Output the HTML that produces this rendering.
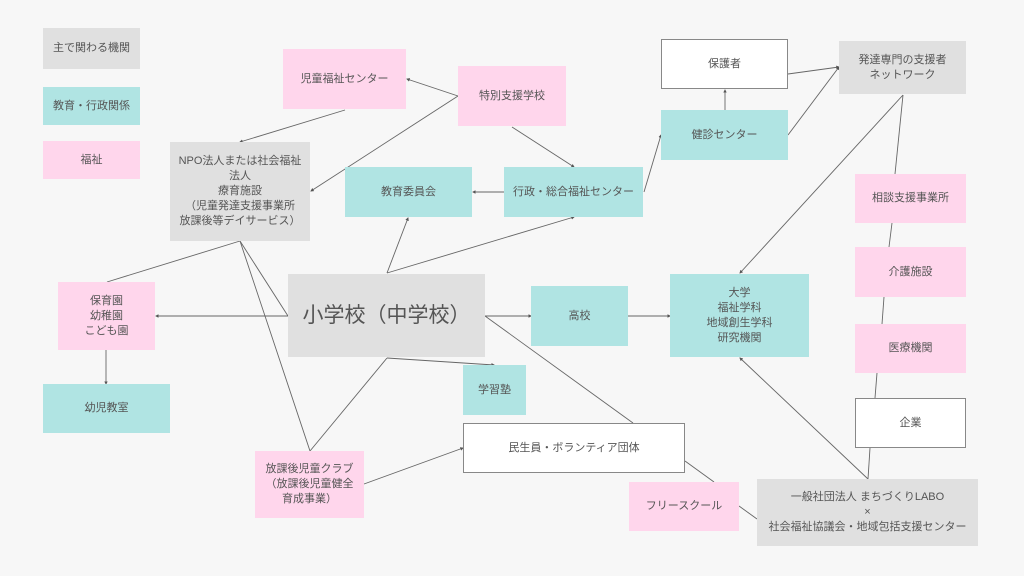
<!DOCTYPE html>
<html><head><meta charset="utf-8"><style>
body{margin:0;width:1024px;height:576px;background:#f7f7f7;position:relative;overflow:hidden;font-family:"Liberation Sans","Noto Sans CJK JP",sans-serif;color:#555;}
.b{position:absolute;display:flex;align-items:center;justify-content:center;text-align:center;font-size:11px;line-height:15px;box-sizing:border-box;}
.p{background:#ffd6ec}.t{background:#b0e4e3}.g{background:#e0e0e0}.w{background:#fff;border:1px solid #888}
svg{position:absolute;left:0;top:0}
</style></head><body>
<svg width="1024" height="576">
<defs><marker id="a" markerWidth="4" markerHeight="4" refX="3" refY="2" orient="auto"><path d="M0,0L4,2L0,4z" fill="#555"/></marker></defs>
<g stroke="#666" stroke-width="0.9" fill="none">
<line x1="458" y1="96" x2="407" y2="79" marker-end="url(#a)"/>
<line x1="345" y1="110" x2="240" y2="142" marker-end="url(#a)"/>
<line x1="458" y1="96" x2="311" y2="191" marker-end="url(#a)"/>
<line x1="512" y1="127" x2="574" y2="167" marker-end="url(#a)"/>
<line x1="504" y1="192" x2="473" y2="192" marker-end="url(#a)"/>
<line x1="387" y1="273" x2="408" y2="218" marker-end="url(#a)"/>
<line x1="387" y1="273" x2="574" y2="217" marker-end="url(#a)"/>
<line x1="644" y1="192" x2="661" y2="135" marker-end="url(#a)"/>
<line x1="725" y1="110" x2="725" y2="90" marker-end="url(#a)"/>
<line x1="788" y1="74" x2="839" y2="67" marker-end="url(#a)"/>
<line x1="788" y1="135" x2="839" y2="67" marker-end="url(#a)"/>
<line x1="903" y1="95" x2="740" y2="273" marker-end="url(#a)"/>
<line x1="903" y1="95" x2="895" y2="174"/>
<line x1="892" y1="223" x2="889" y2="247"/>
<line x1="884" y1="297" x2="882" y2="324"/>
<line x1="877" y1="373" x2="875" y2="398"/>
<line x1="870" y1="448" x2="868" y2="479"/>
<line x1="868" y1="479" x2="740" y2="358" marker-end="url(#a)"/>
<line x1="485" y1="316" x2="531" y2="316" marker-end="url(#a)"/>
<line x1="628" y1="316" x2="670" y2="316" marker-end="url(#a)"/>
<line x1="485" y1="316" x2="633" y2="423"/>
<line x1="288" y1="316" x2="156" y2="316" marker-end="url(#a)"/>
<line x1="240" y1="241" x2="107" y2="282"/>
<line x1="240" y1="241" x2="288" y2="316"/>
<line x1="240" y1="241" x2="310" y2="451"/>
<line x1="387" y1="358" x2="494" y2="365" marker-end="url(#a)"/>
<line x1="387" y1="358" x2="310" y2="451"/>
<line x1="364" y1="484" x2="463" y2="448" marker-end="url(#a)"/>
<line x1="685" y1="461" x2="714" y2="482"/>
<line x1="739" y1="506" x2="757" y2="519"/>
<line x1="106" y1="350" x2="106" y2="384" marker-end="url(#a)"/>
</g></svg>
<div class="b g" style="left:43px;top:28px;width:97px;height:41px">主で関わる機関</div>
<div class="b t" style="left:43px;top:87px;width:97px;height:38px">教育・行政関係</div>
<div class="b p" style="left:43px;top:141px;width:97px;height:38px">福祉</div>
<div class="b p" style="left:283px;top:49px;width:123px;height:60px">児童福祉センター</div>
<div class="b p" style="left:458px;top:66px;width:108px;height:60px">特別支援学校</div>
<div class="b g" style="left:170px;top:142px;width:140px;height:99px">NPO法人または社会福祉<br>法人<br>療育施設<br>（児童発達支援事業所<br>放課後等デイサービス）</div>
<div class="b t" style="left:345px;top:167px;width:127px;height:50px">教育委員会</div>
<div class="b t" style="left:504px;top:167px;width:139px;height:50px">行政・総合福祉センター</div>
<div class="b w" style="left:661px;top:39px;width:127px;height:50px">保護者</div>
<div class="b t" style="left:661px;top:110px;width:127px;height:50px">健診センター</div>
<div class="b g" style="left:839px;top:41px;width:127px;height:53px">発達専門の支援者<br>ネットワーク</div>
<div class="b p" style="left:855px;top:174px;width:111px;height:49px">相談支援事業所</div>
<div class="b p" style="left:855px;top:247px;width:111px;height:50px">介護施設</div>
<div class="b p" style="left:855px;top:324px;width:111px;height:49px">医療機関</div>
<div class="b w" style="left:855px;top:398px;width:111px;height:50px">企業</div>
<div class="b p" style="left:58px;top:282px;width:97px;height:68px">保育園<br>幼稚園<br>こども園</div>
<div class="b t" style="left:43px;top:384px;width:127px;height:49px">幼児教室</div>
<div class="b g" style="left:288px;top:274px;width:197px;height:83px;font-size:21px">小学校（中学校）</div>
<div class="b t" style="left:531px;top:286px;width:97px;height:60px">高校</div>
<div class="b t" style="left:670px;top:274px;width:139px;height:83px">大学<br>福祉学科<br>地域創生学科<br>研究機関</div>
<div class="b t" style="left:463px;top:365px;width:63px;height:50px">学習塾</div>
<div class="b w" style="left:463px;top:423px;width:222px;height:50px">民生員・ボランティア団体</div>
<div class="b p" style="left:255px;top:451px;width:109px;height:67px">放課後児童クラブ<br>（放課後児童健全<br>育成事業）</div>
<div class="b p" style="left:629px;top:482px;width:110px;height:49px">フリースクール</div>
<div class="b g" style="left:757px;top:479px;width:221px;height:67px">一般社団法人 まちづくりLABO<br>×<br>社会福祉協議会・地域包括支援センター</div>
</body></html>
